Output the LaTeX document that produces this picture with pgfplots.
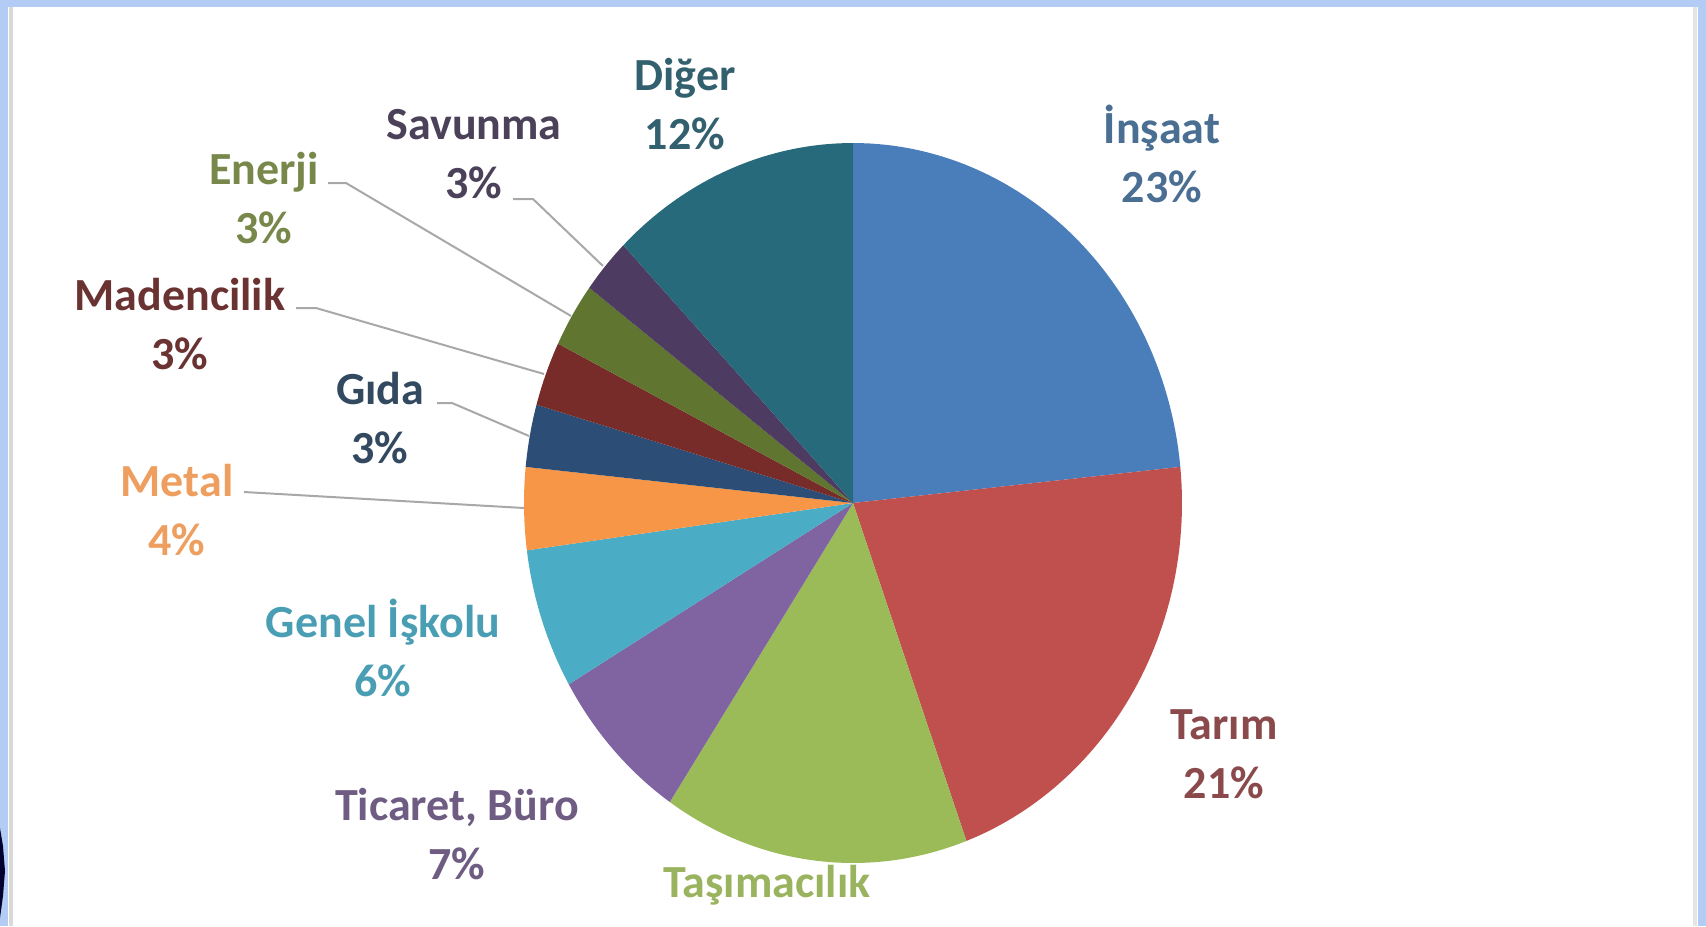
\documentclass[border=0pt]{standalone}
\usepackage{fontspec}
\setmainfont{Carlito}
\usepackage{pgfplots}
\pgfplotsset{compat=1.18}

% slice colours (Office palette)
\definecolor{cInsaat}{HTML}{4A7EBB}
\definecolor{cTarim}{HTML}{C0504D}
\definecolor{cTasim}{HTML}{9BBB59}
\definecolor{cTicaret}{HTML}{8064A2}
\definecolor{cGenel}{HTML}{4BACC6}
\definecolor{cMetal}{HTML}{F79646}
\definecolor{cGida}{HTML}{2C4D75}
\definecolor{cMaden}{HTML}{772C2A}
\definecolor{cEnerji}{HTML}{5F7530}
\definecolor{cSavunma}{HTML}{4D3B62}
\definecolor{cDiger}{HTML}{276A7C}
% label colours
\definecolor{lInsaat}{HTML}{4A6F92}
\definecolor{lTarim}{HTML}{8A4A4C}
\definecolor{lTasim}{HTML}{9AB35E}
\definecolor{lTicaret}{HTML}{6E5C82}
\definecolor{lGenel}{HTML}{4A9EB4}
\definecolor{lMetal}{HTML}{EE9E5E}
\definecolor{lGida}{HTML}{33495F}
\definecolor{lMaden}{HTML}{6A3332}
\definecolor{lEnerji}{HTML}{77884A}
\definecolor{lSavunma}{HTML}{4B4158}
\definecolor{lDiger}{HTML}{32606E}
\definecolor{frameblue}{HTML}{B3CCF6}
\definecolor{leader}{HTML}{A8A8A8}

\tikzset{lbl/.style={font=\fontsize{11.5}{14.8}\selectfont\bfseries, align=center, inner sep=0pt}}

\begin{document}
\begin{tikzpicture}
\begin{axis}[
  scale only axis, width=426.5pt, height=231.5pt,
  xmin=0, xmax=1706, ymin=0, ymax=926,
  hide axis, clip=true,
]
% frame of the screenshot
\addplot[fill=frameblue, draw=none] coordinates {(0,0) (8,0) (8,926) (0,926)} -- cycle;
\addplot[fill=frameblue, draw=none] coordinates {(0,919) (1706,919) (1706,926) (0,926)} -- cycle;
\addplot[fill=frameblue, draw=none] coordinates {(1698,0) (1706,0) (1706,926) (1698,926)} -- cycle;
\addplot[draw=black!15, line width=1pt] coordinates {(11,0) (11,919)};
\addplot[draw=black!10, line width=1pt] coordinates {(1695,0) (1695,919)};
\addplot[fill=black!80!blue, draw=none] coordinates {(0,98) (3,80) (5,55) (3,30) (0,8)} -- cycle;

% pie slices: shares in percent, clockwise from 12 o'clock
% İnşaat 23.4, Tarım 21.0, Taşımacılık 15.0, Ticaret 7.2, Genel 6.3,
% Metal 3.7, Gıda 2.8, Madencilik 2.9, Enerji 2.9, Savunma 2.5, Diğer 12.3
\addplot[fill=cInsaat, draw=none, domain=5.76:90, samples=60, variable=\t]
  ({853+329*cos(\t)}, {423+360*sin(\t)}) -- (853,423) -- cycle;
\addplot[fill=cTarim, draw=none, domain=-69.84:5.76, samples=60, variable=\t]
  ({853+329*cos(\t)}, {423+360*sin(\t)}) -- (853,423) -- cycle;
\addplot[fill=cTasim, draw=none, domain=-123.84:-69.84, samples=50, variable=\t]
  ({853+329*cos(\t)}, {423+360*sin(\t)}) -- (853,423) -- cycle;
\addplot[fill=cTicaret, draw=none, domain=-149.76:-123.84, samples=25, variable=\t]
  ({853+329*cos(\t)}, {423+360*sin(\t)}) -- (853,423) -- cycle;
\addplot[fill=cGenel, draw=none, domain=-172.44:-149.76, samples=25, variable=\t]
  ({853+329*cos(\t)}, {423+360*sin(\t)}) -- (853,423) -- cycle;
\addplot[fill=cMetal, draw=none, domain=-185.76:-172.44, samples=15, variable=\t]
  ({853+329*cos(\t)}, {423+360*sin(\t)}) -- (853,423) -- cycle;
\addplot[fill=cGida, draw=none, domain=-195.84:-185.76, samples=12, variable=\t]
  ({853+329*cos(\t)}, {423+360*sin(\t)}) -- (853,423) -- cycle;
\addplot[fill=cMaden, draw=none, domain=-206.28:-195.84, samples=12, variable=\t]
  ({853+329*cos(\t)}, {423+360*sin(\t)}) -- (853,423) -- cycle;
\addplot[fill=cEnerji, draw=none, domain=-216.72:-206.28, samples=12, variable=\t]
  ({853+329*cos(\t)}, {423+360*sin(\t)}) -- (853,423) -- cycle;
\addplot[fill=cSavunma, draw=none, domain=-225.72:-216.72, samples=12, variable=\t]
  ({853+329*cos(\t)}, {423+360*sin(\t)}) -- (853,423) -- cycle;
\addplot[fill=cDiger, draw=none, domain=-270:-225.72, samples=40, variable=\t]
  ({853+329*cos(\t)}, {423+360*sin(\t)}) -- (853,423) -- cycle;

% leader lines
\addplot[draw=leader, line width=0.5pt] coordinates {(513,727) (533,727) (603,660)};
\addplot[draw=leader, line width=0.5pt] coordinates {(328,743) (346,743) (571,610)};
\addplot[draw=leader, line width=0.5pt] coordinates {(296,618) (316,618) (544,552)};
\addplot[draw=leader, line width=0.5pt] coordinates {(437,523) (452,523) (529,490)};
\addplot[draw=leader, line width=0.5pt] coordinates {(244,434) (524,418)};

% labels
\node[lbl, text=lDiger]    at (685,822) {Diğer\\12\%};
\node[lbl, text=lInsaat]   at (1162,772) {İnşaat\\23\%};
\node[lbl, text=lSavunma]  at (474,772) {Savunma\\3\%};
\node[lbl, text=lEnerji]   at (264,728) {Enerji\\3\%};
\node[lbl, text=lMaden]    at (180,602) {Madencilik\\3\%};
\node[lbl, text=lGida]     at (380,508) {Gıda\\3\%};
\node[lbl, text=lMetal]    at (177,416) {Metal\\4\%};
\node[lbl, text=lGenel]    at (383,278) {Genel İşkolu\\6\%};
\node[lbl, text=lTicaret]  at (457,92)  {Ticaret, Büro\\7\%};
\node[lbl, text=lTarim]    at (1224,172) {Tarım\\21\%};
\node[lbl, text=lTasim]    at (767,41)  {Taşımacılık};
\end{axis}
\end{tikzpicture}
\end{document}
